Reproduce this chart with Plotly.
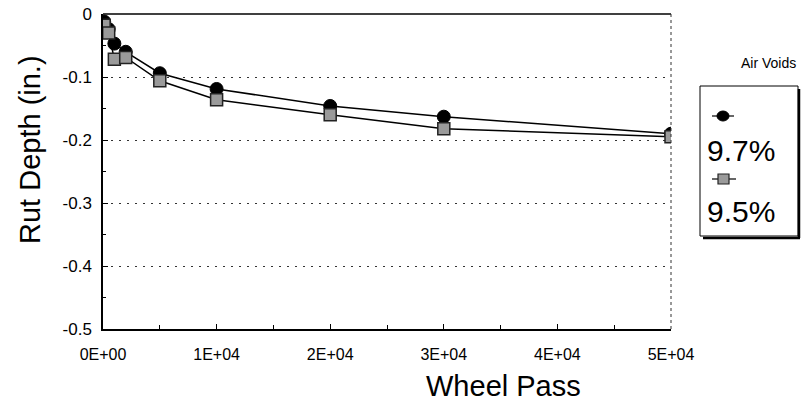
import plotly.graph_objects as go

# ---- data ----
passes_97 = [100, 500, 1000, 2000, 5000, 10000, 20000, 30000, 50000]
rut_97 = [-0.012, -0.024, -0.047, -0.060, -0.094, -0.119, -0.146, -0.163, -0.190]
passes_95 = [100, 500, 1000, 2000, 5000, 10000, 20000, 30000, 50000]
rut_95 = [-0.018, -0.030, -0.072, -0.069, -0.106, -0.136, -0.160, -0.182, -0.195]
series_names = ["9.7%", "9.5%"]

x_tickvals = [0, 10000, 20000, 30000, 40000, 50000]
x_ticktext = ["0E+00", "1E+04", "2E+04", "3E+04", "4E+04", "5E+04"]
y_tickvals = [0, -0.1, -0.2, -0.3, -0.4, -0.5]
y_ticktext = ["0", "-0.1", "-0.2", "-0.3", "-0.4", "-0.5"]

FONT = "Arial, Liberation Sans, sans-serif"
W, H = 802, 407
L, R, T, B = 103, 131, 14, 78

def px(x):
    return (x - L) / (W - L - R)

def py(y):
    return (H - B - y) / (H - T - B)

fig = go.Figure()
fig.add_trace(go.Scatter(
    x=passes_97, y=rut_97, mode="lines+markers", name=series_names[0],
    line=dict(color="black", width=1.5),
    marker=dict(symbol="circle", size=13, color="black", line=dict(color="black", width=1)),
    showlegend=False))
fig.add_trace(go.Scatter(
    x=passes_95, y=rut_95, mode="lines+markers", name=series_names[1],
    line=dict(color="black", width=1.5),
    marker=dict(symbol="square", size=12, color="#9a9a9a", line=dict(color="#222", width=1.5)),
    showlegend=False))

shapes = []
# top border solid, right border dotted
shapes.append(dict(type="line", xref="paper", yref="paper", x0=0, x1=1, y0=1, y1=1,
                   line=dict(color="black", width=1.5)))
shapes.append(dict(type="line", xref="paper", yref="paper", x0=1, x1=1, y0=0, y1=1,
                   line=dict(color="#333", width=1, dash="dot")))
# legend box with shadow
shapes.append(dict(type="rect", xref="paper", yref="paper",
                   x0=px(700), x1=px(798), y0=py(236), y1=py(86),
                   line=dict(color="black", width=1), fillcolor="white"))
shapes.append(dict(type="line", xref="paper", yref="paper", x0=px(799), x1=px(799),
                   y0=py(238), y1=py(89), line=dict(color="black", width=2.5)))
shapes.append(dict(type="line", xref="paper", yref="paper", x0=px(703), x1=px(800),
                   y0=py(238), y1=py(238), line=dict(color="black", width=2.5)))
# legend keys
shapes.append(dict(type="line", xref="paper", yref="paper", x0=px(712), x1=px(734),
                   y0=py(116), y1=py(116), line=dict(color="black", width=1.2)))
shapes.append(dict(type="circle", xref="paper", yref="paper", x0=px(717), x1=px(729),
                   y0=py(121), y1=py(111), line=dict(color="black", width=1), fillcolor="black"))
shapes.append(dict(type="line", xref="paper", yref="paper", x0=px(712), x1=px(736),
                   y0=py(179), y1=py(179), line=dict(color="black", width=1.2)))
shapes.append(dict(type="rect", xref="paper", yref="paper", x0=px(718), x1=px(729),
                   y0=py(184), y1=py(174), line=dict(color="#222", width=1.2), fillcolor="#9a9a9a"))

annotations = [
    dict(text="Air Voids", xref="paper", yref="paper", x=px(768), y=py(63),
         xanchor="center", yanchor="middle", showarrow=False,
         font=dict(family=FONT, size=14, color="black")),
    dict(text=series_names[0], xref="paper", yref="paper", x=px(705), y=py(150),
         xanchor="left", yanchor="middle", showarrow=False,
         font=dict(family=FONT, size=30, color="black")),
    dict(text=series_names[1], xref="paper", yref="paper", x=px(705), y=py(211),
         xanchor="left", yanchor="middle", showarrow=False,
         font=dict(family=FONT, size=30, color="black")),
    dict(text="Wheel Pass", xref="paper", yref="paper", x=px(503), y=py(386),
         xanchor="center", yanchor="middle", showarrow=False,
         font=dict(family=FONT, size=29, color="black")),
    dict(text="Rut Depth (in.)", xref="paper", yref="paper", x=px(30), y=py(150),
         xanchor="center", yanchor="middle", showarrow=False, textangle=-90,
         font=dict(family=FONT, size=29, color="black")),
]

fig.update_layout(
    width=W, height=H,
    margin=dict(l=L, r=R, t=T, b=B, pad=0, autoexpand=False),
    paper_bgcolor="white", plot_bgcolor="white",
    font=dict(family=FONT, color="black"),
    shapes=shapes, annotations=annotations,
    showlegend=False,
)
fig.update_xaxes(
    range=[0, 50000], tickvals=x_tickvals, ticktext=x_ticktext, automargin=False,
    showgrid=False, zeroline=False, showline=True, linecolor="black", linewidth=1.5,
    ticks="inside", ticklen=5, tickcolor="black",
    minor=dict(dtick=5000, ticks="inside", ticklen=4, tickcolor="black"),
    tickfont=dict(family=FONT, size=16, color="black"), ticklabelstandoff=10,
)
fig.update_yaxes(
    range=[-0.5, 0], tickvals=y_tickvals, ticktext=y_ticktext, automargin=False,
    showgrid=True, gridcolor="#333", griddash="2px,6px", gridwidth=1.2,
    zeroline=False, showline=True, linecolor="black", linewidth=1.5,
    ticks="inside", ticklen=5, tickcolor="black",
    minor=dict(dtick=0.05, ticks="inside", ticklen=3, tickcolor="black", showgrid=False),
    tickfont=dict(family=FONT, size=17, color="black"), ticklabelstandoff=6,
)

fig.write_html("out.html")
